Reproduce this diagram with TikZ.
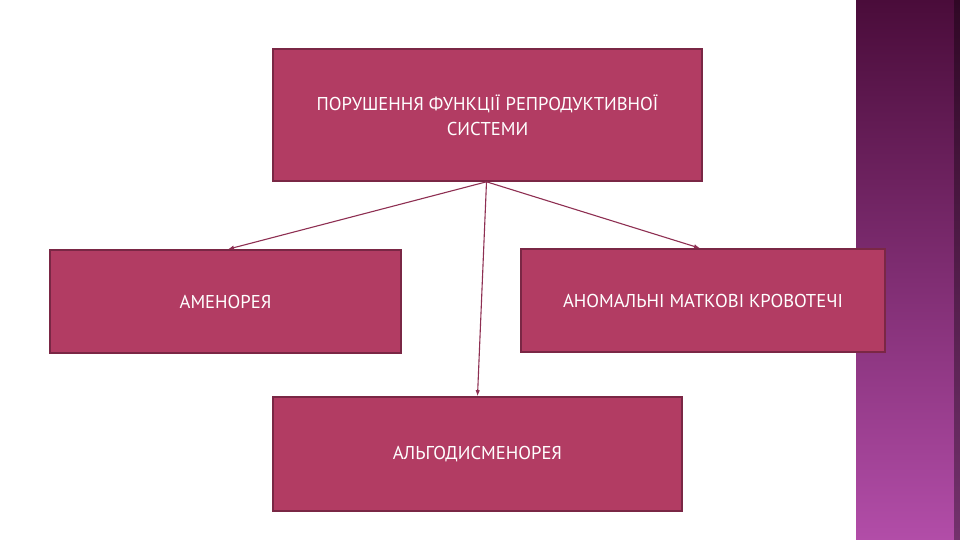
\documentclass[tikz,border=0pt]{standalone}
\usepackage{fontspec}
\setmainfont{PT Sans}
\usepackage[svgnames, dvipsnames]{xcolor}
\usetikzlibrary{calc, arrows.meta}
\definecolor{boxfill}{HTML}{B23C63}
\definecolor{boxedge}{HTML}{7A2745}
\definecolor{linkcol}{HTML}{8E2F52}
\definecolor{bandtop}{HTML}{4A0C3A}
\definecolor{bandbot}{HTML}{B24DA8}
\tikzset{>=latex}

\begin{document}
\begin{tikzpicture}[x=1pt, y=-1pt,
  box/.style={draw=boxedge, line width=1.6pt, fill=boxfill, text=white, align=center, font=\fontsize{18.6}{25}\selectfont, inner sep=0pt},
  link/.style={draw=linkcol, line width=1.1pt, -{Latex[length=6pt,width=4.5pt]}}]
\useasboundingbox (0,0) rectangle (960,540);
\fill[white] (0,0) rectangle (960,540);
% side band
\shade[top color=bandtop, bottom color=bandbot] (856,0) rectangle (960,540);
\fill[black, opacity=0.35] (954,0) rectangle (960,540);
% boxes
\node[box, minimum width=429pt, minimum height=132pt] (sys) at (487.5,115) {ПОРУШЕННЯ ФУНКЦІЇ РЕПРОДУКТИВНОЇ\\СИСТЕМИ};
\node[box, minimum width=351pt, minimum height=103pt] (amen) at (225.5,301.5) {АМЕНОРЕЯ};
\node[box, minimum width=364pt, minimum height=103pt] (bleed) at (703,300.5) {АНОМАЛЬНІ МАТКОВІ КРОВОТЕЧІ};
\node[box, minimum width=409pt, minimum height=114pt] (algo) at (477.5,454) {АЛЬГОДИСМЕНОРЕЯ};
% arrows
\coordinate (from) at ($(sys.south)+(-1,0)$);
\draw[link] (from) -- ($(amen.north)+(2.5,0)$);
\draw[link] (from) -- ($(bleed.north)+(-3,0)$);
\draw[link] (from) -- ($(algo.north)+(0,0)$);
\end{tikzpicture}
\end{document}
